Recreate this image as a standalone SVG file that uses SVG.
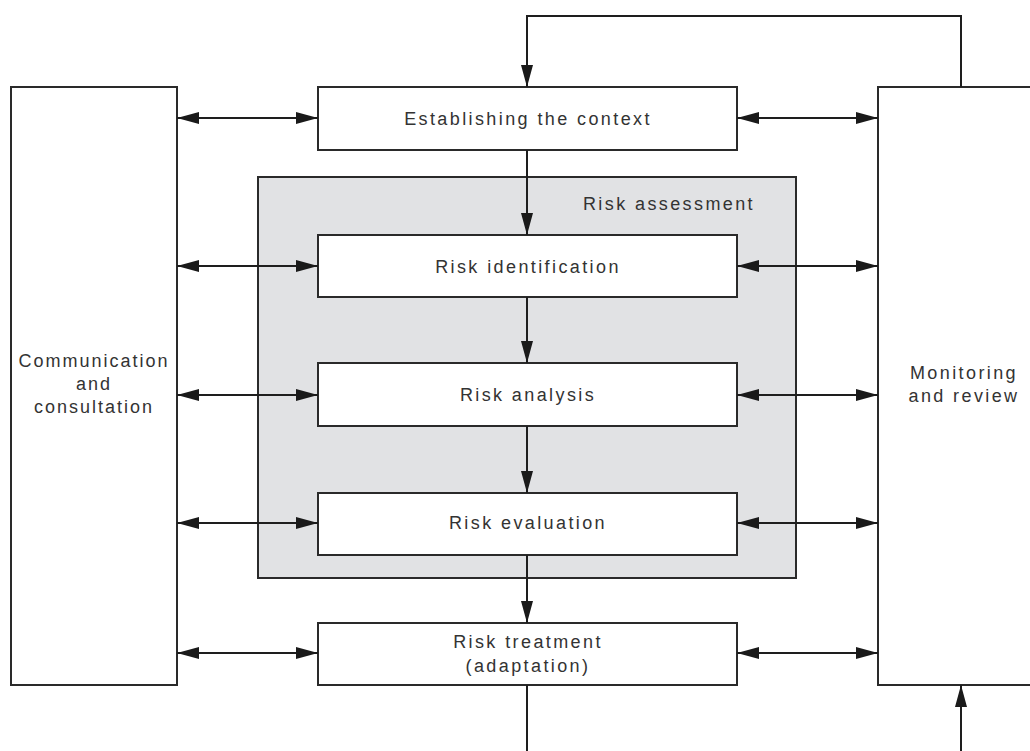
<svg xmlns="http://www.w3.org/2000/svg" width="1030" height="751" viewBox="0 0 1030 751">
<defs>
<style>
.box{fill:#fff;stroke:#2a2a2a;stroke-width:2}
.grp{fill:#e1e2e4;stroke:#2a2a2a;stroke-width:2}
.ln{fill:none;stroke:#1e1e1e;stroke-width:2}
text{font-family:"Liberation Sans",Arial,sans-serif;font-size:18px;fill:#333;letter-spacing:2.4px;text-anchor:middle}
.tight{letter-spacing:2px}
</style>
<marker id="ah" viewBox="0 0 22 12" refX="22" refY="6" markerWidth="22" markerHeight="12" markerUnits="userSpaceOnUse" orient="auto-start-reverse">
<path d="M0,0 L22,6 L0,12 Z" fill="#1a1a1a"/>
</marker>
</defs>
<rect width="1030" height="751" fill="#fff"/>
<g id="risk-assessment">
<rect class="grp" x="258" y="177" width="538" height="401"/>
<text x="669" y="210">Risk assessment</text>
</g>
<g id="communication">
<rect class="box" x="11" y="87" width="166" height="598"/>
<text class="tight" x="94" y="367">Communication</text>
<text class="tight" x="94" y="390">and</text>
<text class="tight" x="94" y="413">consultation</text>
</g>
<g id="monitoring">
<rect class="box" x="878" y="87" width="170" height="598"/>
<text x="964" y="379">Monitoring</text>
<text x="964" y="402">and review</text>
</g>
<g id="context">
<rect class="box" x="318" y="87" width="419" height="63"/>
<text x="528" y="125">Establishing the context</text>
</g>
<g id="identification">
<rect class="box" x="318" y="235" width="419" height="62"/>
<text x="528" y="273">Risk identification</text>
</g>
<g id="analysis">
<rect class="box" x="318" y="363" width="419" height="63"/>
<text x="528" y="401">Risk analysis</text>
</g>
<g id="evaluation">
<rect class="box" x="318" y="493" width="419" height="62"/>
<text x="528" y="529">Risk evaluation</text>
</g>
<g id="treatment">
<rect class="box" x="318" y="623" width="419" height="62"/>
<text x="528" y="648">Risk treatment</text>
<text x="528" y="672">(adaptation)</text>
</g>
<g id="connectors">
<path class="ln" d="M961,87 V16 H527 V87" marker-end="url(#ah)"/>
<path class="ln" d="M527,150 V235" marker-end="url(#ah)"/>
<path class="ln" d="M527,297 V363" marker-end="url(#ah)"/>
<path class="ln" d="M527,426 V493" marker-end="url(#ah)"/>
<path class="ln" d="M527,555 V623" marker-end="url(#ah)"/>
<path class="ln" d="M527,685 V751"/>
<path class="ln" d="M961,751 V685" marker-end="url(#ah)"/>
<path class="ln" d="M177,118 H318" marker-start="url(#ah)" marker-end="url(#ah)"/>
<path class="ln" d="M177,266 H318" marker-start="url(#ah)" marker-end="url(#ah)"/>
<path class="ln" d="M177,395 H318" marker-start="url(#ah)" marker-end="url(#ah)"/>
<path class="ln" d="M177,523 H318" marker-start="url(#ah)" marker-end="url(#ah)"/>
<path class="ln" d="M177,653 H318" marker-start="url(#ah)" marker-end="url(#ah)"/>
<path class="ln" d="M737,118 H878" marker-start="url(#ah)" marker-end="url(#ah)"/>
<path class="ln" d="M737,266 H878" marker-start="url(#ah)" marker-end="url(#ah)"/>
<path class="ln" d="M737,395 H878" marker-start="url(#ah)" marker-end="url(#ah)"/>
<path class="ln" d="M737,523 H878" marker-start="url(#ah)" marker-end="url(#ah)"/>
<path class="ln" d="M737,653 H878" marker-start="url(#ah)" marker-end="url(#ah)"/>
</g>
</svg>
